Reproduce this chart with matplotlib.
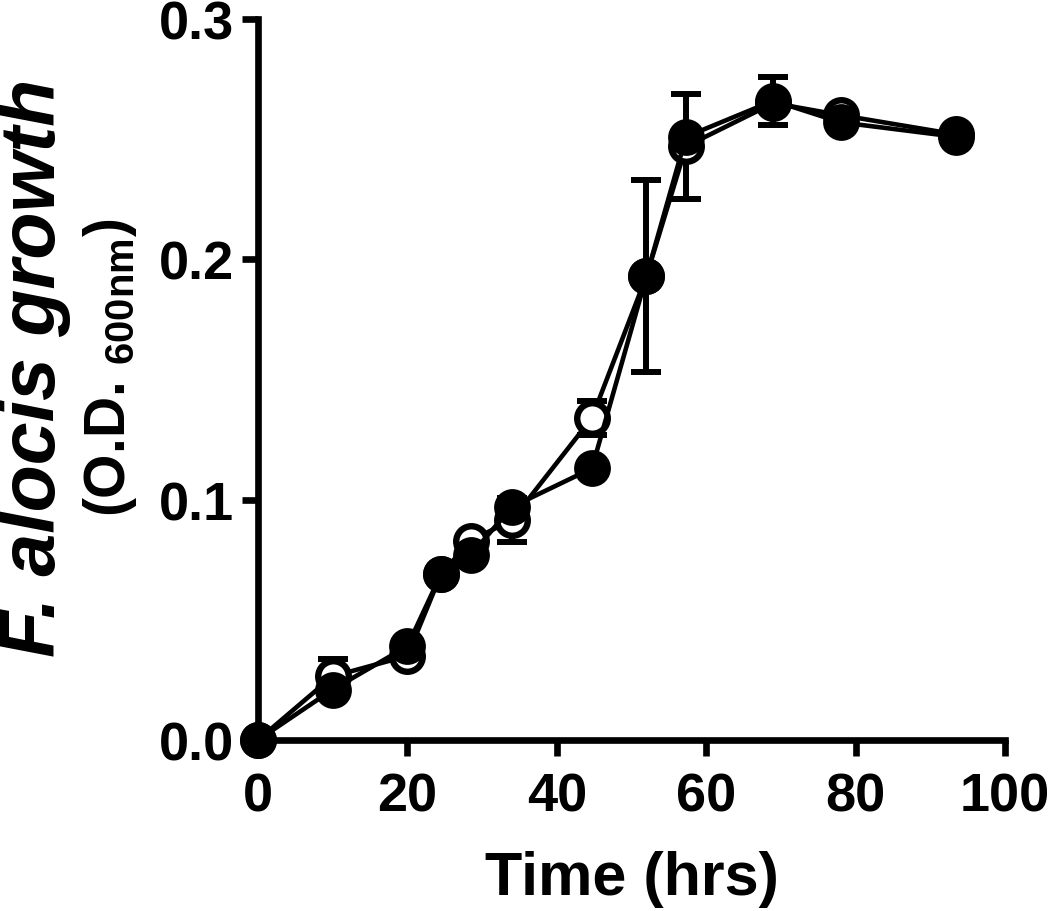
import matplotlib
matplotlib.use("Agg")
import matplotlib.pyplot as plt
from matplotlib.ticker import FormatStrFormatter

# Data
time_hrs = [0, 10, 20, 24.5, 28.5, 34, 44.7, 52, 57.3, 69, 78, 93.4]
od_filled = [0.0, 0.021, 0.039, 0.069, 0.077, 0.097, 0.113, 0.193, 0.251, 0.266, 0.257, 0.251]
sd_filled = [0, 0, 0, 0, 0, 0, 0, 0.040, 0, 0.010, 0, 0]
od_open = [0.0, 0.0265, 0.035, 0.069, 0.083, 0.0915, 0.134, 0.193, 0.247, 0.265, 0.260, 0.252]
sd_open = [0, 0.007, 0, 0, 0, 0.009, 0.007, 0, 0.022, 0, 0, 0]

x_ticks = [0, 20, 40, 60, 80, 100]
y_ticks = [0.0, 0.1, 0.2, 0.3]

plt.rcParams['font.family'] = ['Liberation Sans', 'DejaVu Sans']
plt.rcParams['font.weight'] = 'bold'
plt.rcParams['mathtext.fontset'] = 'custom'
plt.rcParams['mathtext.rm'] = 'Liberation Sans:bold'
plt.rcParams['mathtext.bf'] = 'Liberation Sans:bold'
plt.rcParams['mathtext.it'] = 'Liberation Sans:bold:italic'

W, H = 1050, 912
fig = plt.figure(figsize=(W / 100, H / 100), dpi=100)
ax = fig.add_axes([258 / W, 1 - 741 / H, (1005 - 258) / W, (741 - 20) / H])

lw = 3.3
elw = 4.3
cap = 10.8

# error bars
ax.errorbar(time_hrs, od_open, yerr=sd_open, fmt='none', ecolor='black', elinewidth=elw,
            capsize=cap, capthick=elw, clip_on=False, zorder=2)
ax.errorbar(time_hrs, od_filled, yerr=sd_filled, fmt='none', ecolor='black', elinewidth=elw,
            capsize=cap, capthick=elw, clip_on=False, zorder=2)
# open series
ax.plot(time_hrs, od_open, color='black', lw=lw, marker='o', markersize=22,
        markerfacecolor='white', markeredgecolor='black', markeredgewidth=4.6,
        clip_on=False, zorder=3)
# filled series
ax.plot(time_hrs, od_filled, color='black', lw=lw, marker='o', markersize=26.5,
        markerfacecolor='black', markeredgecolor='black', markeredgewidth=0,
        clip_on=False, zorder=4)

ax.set_xlim(0, 100)
ax.set_ylim(0, 0.3)
ax.set_xticks(x_ticks)
ax.set_yticks(y_ticks)
ax.yaxis.set_major_formatter(FormatStrFormatter('%.1f'))

for s in ['top', 'right']:
    ax.spines[s].set_visible(False)
for s in ['left', 'bottom']:
    ax.spines[s].set_linewidth(4.8)
    ax.spines[s].set_capstyle('projecting')
ax.tick_params(axis='both', which='major', width=4.8, length=11.5, labelsize=39)
ax.tick_params(axis='x', pad=11.5)
ax.tick_params(axis='y', pad=6)
for lab in ax.get_xticklabels() + ax.get_yticklabels():
    lab.set_fontweight('bold')

# axis titles
fig.text(632 / W, 1 - 895 / H, 'Time (hrs)', fontsize=44, fontweight='bold',
         ha='center', va='baseline')
fig.text(55 / W, 1 - 368 / H, 'F. alocis growth', fontsize=55.5, fontweight='bold',
         fontstyle='italic', rotation=90, rotation_mode='anchor',
         ha='center', va='baseline')
fig.text(125 / W, 1 - 368 / H, r'(O.D. $_{\mathbf{600nm}}$)', fontsize=41,
         fontweight='bold', rotation=90, rotation_mode='anchor',
         ha='center', va='baseline')

fig.savefig('out.png', dpi=100)
